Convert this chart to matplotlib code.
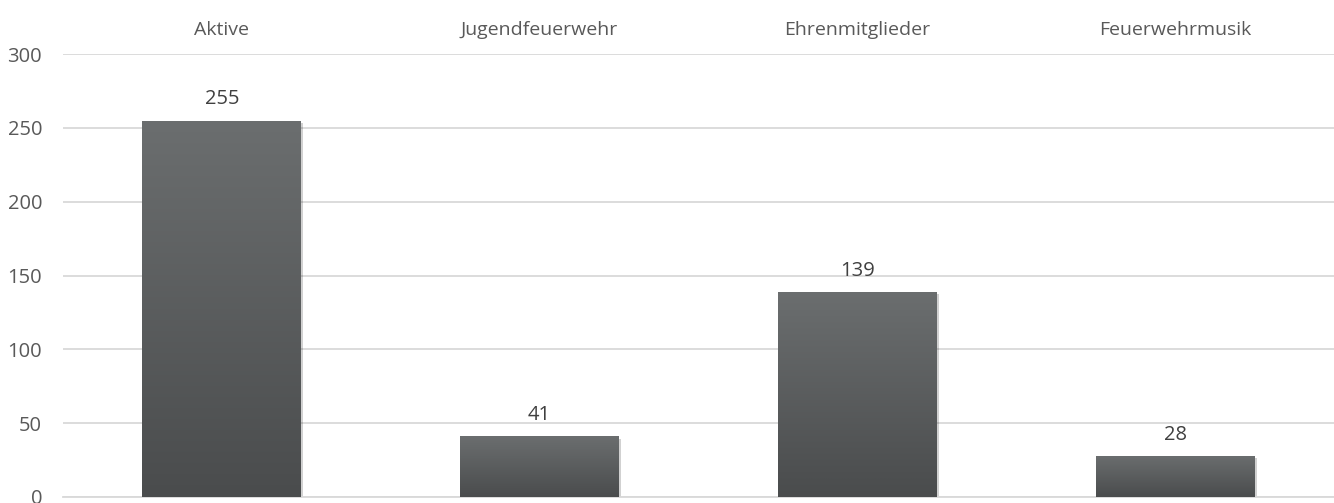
import numpy as np
import matplotlib.pyplot as plt
import matplotlib.patheffects as pe
from matplotlib.colors import LinearSegmentedColormap

categories = ["Aktive", "Jugendfeuerwehr", "Ehrenmitglieder", "Feuerwehrmusik"]
members = [255, 41, 139, 28]
y_ticks = [0, 50, 100, 150, 200, 250, 300]

TEXT = "#595959"
GRID = "#d9d9d9"
TOP_SHADE = "#6b6e6f"
BOTTOM_SHADE = "#4a4c4d"

plt.rcParams["font.family"] = ["Open Sans", "DejaVu Sans"]

fig = plt.figure(figsize=(13.34, 5.03), dpi=100)
ax = fig.add_axes([0.0472, 0.012, 0.9528, 0.8805])

x = np.arange(len(categories))
bars = ax.bar(x, members, width=0.5, color=BOTTOM_SHADE, zorder=2)

# vertical gradient fill, lighter at the top of each bar
grad = np.linspace(0, 1, 256).reshape(-1, 1)
cmap = LinearSegmentedColormap.from_list("bar", [BOTTOM_SHADE, TOP_SHADE])
for b in bars:
    b.set_path_effects([pe.SimplePatchShadow(offset=(1.5, -1.5), shadow_rgbFace="#000000", alpha=0.18),
                        pe.Normal()])
    x0, w, h = b.get_x(), b.get_width(), b.get_height()
    im = ax.imshow(grad, extent=(x0, x0 + w, 0, h), origin="lower", cmap=cmap,
                   aspect="auto", zorder=3, interpolation="bilinear")
    im.set_clip_path(b)

for xi, v in zip(x, members):
    ax.annotate(str(v), (xi, v), xytext=(0, 8), textcoords="offset points",
                ha="center", va="bottom", fontsize=14.5, color="#404040")

ax.set_xlim(-0.5, len(categories) - 0.5)
ax.set_ylim(0, 300)
ax.set_yticks(y_ticks)
ax.set_yticklabels([str(t) for t in y_ticks], fontsize=14.5, color=TEXT)
ax.yaxis.grid(True, color=GRID, linewidth=1.3, zorder=0)
ax.set_axisbelow(True)

ax.set_xticks(x)
ax.set_xticklabels(categories, fontsize=14, color=TEXT)
ax.xaxis.tick_top()
ax.tick_params(axis="x", length=0, pad=11)
ax.tick_params(axis="y", length=0, pad=15)

for s in ["top", "left", "right"]:
    ax.spines[s].set_visible(False)
ax.spines["bottom"].set_color(GRID)
ax.spines["bottom"].set_linewidth(1.3)

fig.savefig("out.png", dpi=100)
